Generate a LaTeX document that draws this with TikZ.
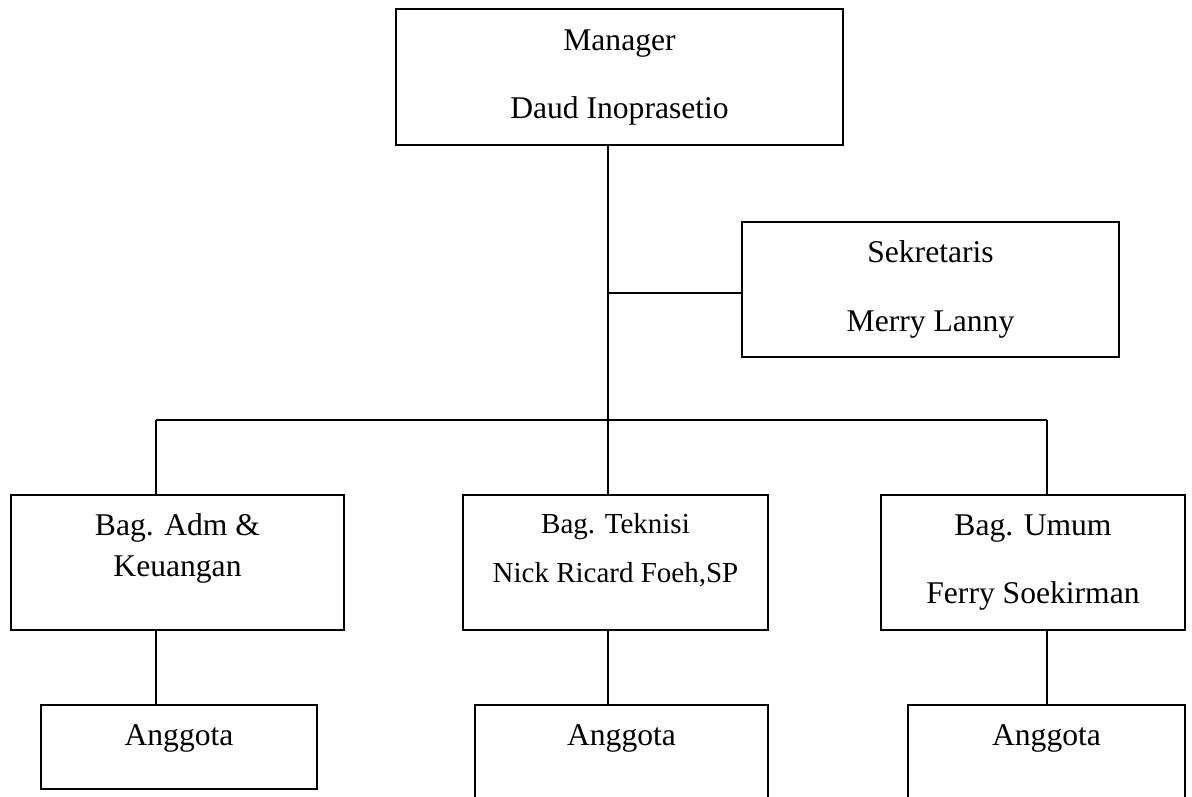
\documentclass[tikz,border=0pt]{standalone}
\usepackage{fontspec}
\setmainfont{Liberation Serif}
\begin{document}
\begin{tikzpicture}[x=1pt,y=-1pt,
  box/.style={draw=black,line width=1.6pt,rectangle,inner sep=0pt,fill=none},
  lbl/.style={anchor=base,inner sep=0pt,font=\fontsize{31.6}{38}\selectfont},
  lblsm/.style={anchor=base,inner sep=0pt,font=\fontsize{29}{35}\selectfont},
  conn/.style={draw=black,line width=1.5pt}]
\clip (0,0) rectangle (1192,796);
\fill[white] (0,0) rectangle (1192,796);
% boxes
\node[box,minimum width=447pt,minimum height=136pt] (mgr) at (619.5,77) {};
\node[box,minimum width=377pt,minimum height=135pt] (sek) at (930.5,289.5) {};
\node[box,minimum width=333pt,minimum height=135pt] (adm) at (177.5,562.5) {};
\node[box,minimum width=305pt,minimum height=135pt] (tek) at (615.5,562.5) {};
\node[box,minimum width=304pt,minimum height=135pt] (umum) at (1033,562.5) {};
\node[box,minimum width=276pt,minimum height=84pt] (a1) at (179,747) {};
\node[box,minimum width=293pt,minimum height=130pt] (a2) at (621.5,770) {};
\node[box,minimum width=277pt,minimum height=130pt] (a3) at (1046.5,770) {};
% texts
\node[lbl] (tm1) at (619.5,50) {Manager};
\node[lbl] (tm2) at (619.5,118) {Daud Inoprasetio};
\node[lbl] (ts1) at (930.5,262) {Sekretaris};
\node[lbl] (ts2) at (930.5,331) {Merry Lanny};
\node[lbl] (ta1) at (177.5,535) {Bag. Adm \&};
\node[lbl] (ta2) at (177.5,576) {Keuangan};
\node[lblsm] (tt1) at (615.5,533) {Bag. Teknisi};
\node[lblsm] (tt2) at (615.5,582) {Nick Ricard Foeh,SP};
\node[lbl] (tu1) at (1033,535) {Bag. Umum};
\node[lbl] (tu2) at (1033,603) {Ferry Soekirman};
\node[lbl] (tg1) at (179,745) {Anggota};
\node[lbl] (tg2) at (621.5,745) {Anggota};
\node[lbl] (tg3) at (1046.5,745) {Anggota};
% connectors
\coordinate (hub) at (608,420);
\coordinate (sekj) at (608,293);
\coordinate (busL) at (156,420);
\coordinate (busR) at (1047,420);
\draw[conn] (mgr.south -| hub) -- (hub);
\draw[conn] (sekj) -- (sekj -| sek.west);
\draw[conn] (busL) -- (busR);
\draw[conn] (busL) -- (busL |- adm.north);
\draw[conn] (hub) -- (hub |- tek.north);
\draw[conn] (busR) -- (busR |- umum.north);
\draw[conn] (busL |- adm.south) -- (busL |- a1.north);
\draw[conn] (hub |- tek.south) -- (hub |- a2.north);
\draw[conn] (busR |- umum.south) -- (busR |- a3.north);
\end{tikzpicture}
\end{document}
